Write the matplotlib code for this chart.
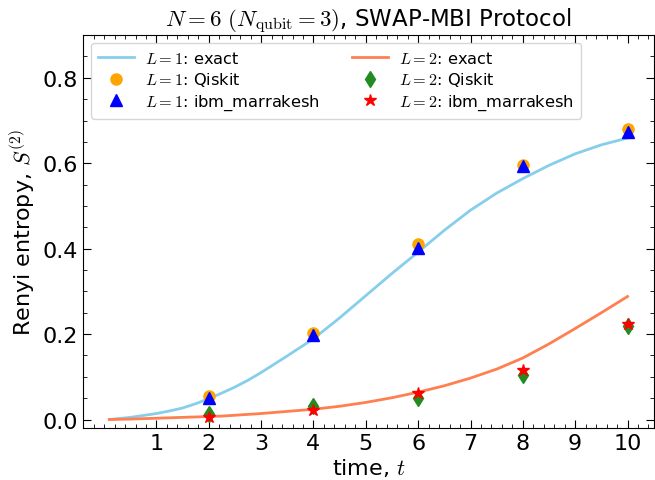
import matplotlib
matplotlib.use("Agg")
import matplotlib.pyplot as plt
from matplotlib.ticker import MultipleLocator

plt.rcParams["mathtext.fontset"] = "cm"

# exact curves
t_exact = [0.1, 0.5, 1.0, 1.25, 1.5, 1.75, 2.0, 2.25, 2.5, 2.75, 3.0, 3.5, 4.0, 4.5,
           5.0, 5.5, 6.0, 6.5, 7.0, 7.5, 8.0, 8.5, 9.0, 9.5, 10.0]
s_exact_L1 = [0.0, 0.005, 0.014, 0.020, 0.027, 0.037, 0.049, 0.062, 0.076, 0.092,
              0.11, 0.149, 0.189, 0.238, 0.29, 0.342, 0.392, 0.443, 0.49, 0.53,
              0.564, 0.595, 0.622, 0.643, 0.659]
s_exact_L2 = [0.0, 0.001, 0.003, 0.004, 0.005, 0.006, 0.007, 0.008, 0.010, 0.012,
              0.014, 0.019, 0.024, 0.031, 0.040, 0.051, 0.064, 0.079, 0.097, 0.118,
              0.144, 0.177, 0.213, 0.25, 0.288]

# sampled times
t_pts = [2, 4, 6, 8, 10]
s_qiskit_L1 = [0.055, 0.202, 0.41, 0.595, 0.68]
s_ibm_L1 = [0.05, 0.197, 0.402, 0.593, 0.673]
s_qiskit_L2 = [0.013, 0.031, 0.05, 0.104, 0.218]
s_ibm_L2 = [0.005, 0.022, 0.062, 0.117, 0.224]

fig = plt.figure(figsize=(6.55, 4.81), dpi=100)
ax = fig.add_axes([0.127, 0.108, 0.871, 0.817])

ax.plot(t_exact, s_exact_L1, color="skyblue", lw=2, label=r"$L=1$: exact")
ax.plot(t_pts, s_qiskit_L1, "o", color="orange", ms=8, label=r"$L=1$: Qiskit")
ax.plot(t_pts, s_ibm_L1, "^", color="blue", ms=8, label=r"$L=1$: ibm_marrakesh")
ax.plot(t_exact, s_exact_L2, color="coral", lw=2, label=r"$L=2$: exact")
ax.plot(t_pts, s_qiskit_L2, "d", color="forestgreen", ms=8, label=r"$L=2$: Qiskit")
ax.plot(t_pts, s_ibm_L2, "*", color="red", ms=9, label=r"$L=2$: ibm_marrakesh")

ax.set_xlim(-0.4, 10.5)
ax.set_ylim(-0.02, 0.9)
ax.set_xticks(range(1, 11))
ax.set_yticks([0.0, 0.2, 0.4, 0.6, 0.8])
ax.xaxis.set_minor_locator(MultipleLocator(0.2))
ax.yaxis.set_minor_locator(MultipleLocator(0.05))
ax.tick_params(which="both", direction="in", top=True, right=True, labelsize=16)
ax.tick_params(which="major", length=6)
ax.tick_params(which="minor", length=3)

ax.set_xlabel(r"time, $t$", fontsize=16, labelpad=2)
ax.set_ylabel(r"Renyi entropy, $S^{(2)}$", fontsize=16)
ax.set_title(r"$N=6$ $(N_{\rm qubit}=3)$, SWAP-MBI Protocol", fontsize=16.5, pad=5)

ax.legend(loc="upper left", ncol=2, fontsize=11.7, handlelength=2.2,
          borderaxespad=0.5, columnspacing=2.0, labelspacing=0.28,
          handletextpad=0.7)

fig.savefig("out.png", dpi=100)
